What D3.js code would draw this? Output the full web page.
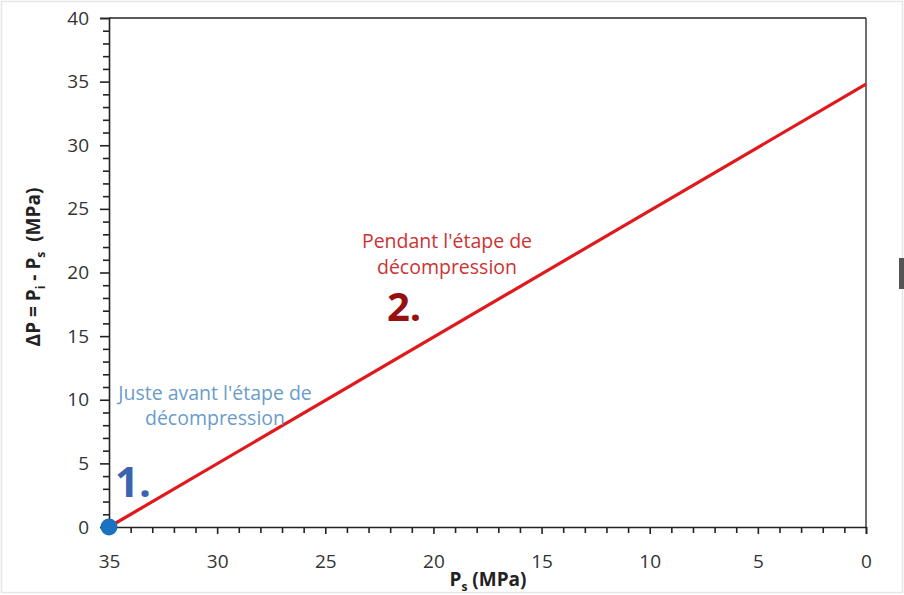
<!DOCTYPE html>
<html><head><meta charset="utf-8">
<script src="https://cdn.jsdelivr.net/npm/d3@7"></script>
<style>
html,body{margin:0;padding:0;background:#fff;}
svg{display:block;}
text{font-family:"Open Sans","Noto Sans",sans-serif;}
</style></head>
<body>
<div id="chart"></div>
<script>
// Data
const lineX = [35, 0];          // Ps (MPa)
const lineY = [0, 34.8];        // ΔP (MPa)
const pointX = [35];
const pointY = [0];
const xTicks = [35, 30, 25, 20, 15, 10, 5, 0];
const yTicks = [0, 5, 10, 15, 20, 25, 30, 35, 40];
const xLabel = "P";
const yLabel = "ΔP = P";
const note1 = ["Juste avant l'étape de", "décompression"];
const note2 = ["Pendant l'étape de", "décompression"];

const W = 904, H = 595;
const m = {left:109, right:866, top:18, bottom:527};
const svg = d3.select("#chart").append("svg").attr("width", W).attr("height", H);

// outer faint frame
svg.append("rect").attr("x",1.5).attr("y",1.5).attr("width",W-3).attr("height",H-4)
  .attr("fill","none").attr("stroke","#e6e6e6").attr("stroke-width",1.5);
svg.append("rect").attr("x",899).attr("y",258).attr("width",5).attr("height",31).attr("fill","#555");

const x = d3.scaleLinear().domain([35, 0]).range([m.left, m.right]);
const y = d3.scaleLinear().domain([0, 40]).range([m.bottom, m.top]);

// frame top & right
svg.append("line").attr("x1",m.left).attr("x2",m.right).attr("y1",m.top).attr("y2",m.top).attr("stroke","#222").attr("stroke-width",1.3);
svg.append("line").attr("x1",m.right).attr("x2",m.right).attr("y1",m.top).attr("y2",m.bottom).attr("stroke","#222").attr("stroke-width",1.3);

// minor ticks
const yMinor = d3.range(0, 41, 1).filter(v => v % 5 !== 0);
const xMinor = d3.range(0, 36, 1).filter(v => v % 5 !== 0);

svg.append("g").attr("transform", `translate(0,${m.bottom})`)
  .call(d3.axisBottom(x).tickValues(xTicks).tickSize(7).tickPadding(21).tickFormat(d3.format("d")));
svg.append("g").attr("transform", `translate(0,${m.bottom})`)
  .call(d3.axisBottom(x).tickValues(xMinor).tickSize(6).tickFormat(""))
  .call(g => g.select(".domain").remove());
svg.append("g").attr("transform", `translate(${m.left},0)`)
  .call(d3.axisLeft(y).tickValues(yTicks).tickSize(9).tickPadding(11).tickFormat(d3.format("d")));
svg.append("g").attr("transform", `translate(${m.left},0)`)
  .call(d3.axisLeft(y).tickValues(yMinor).tickSize(6).tickFormat(""))
  .call(g => g.select(".domain").remove());

svg.selectAll(".domain").attr("stroke","#222").attr("stroke-width",1.6);
svg.selectAll(".tick line").attr("stroke","#222").attr("stroke-width",1.6);
svg.selectAll(".tick text").attr("font-size",19).attr("fill","#333")
  .attr("font-family","'Open Sans','Noto Sans',sans-serif");

// line
const pts = lineX.map((v,i)=>[v, lineY[i]]);
svg.append("path").datum(pts)
  .attr("d", d3.line().x(d=>x(d[0])).y(d=>y(d[1])))
  .attr("fill","none").attr("stroke","#e0191c").attr("stroke-width",3.2);

// point
svg.selectAll(".pt").data(pointX.map((v,i)=>[v,pointY[i]])).enter().append("circle")
  .attr("cx",d=>x(d[0])).attr("cy",d=>y(d[1])).attr("r",8.5).attr("fill","#1a72c0");

// annotations
const t1 = svg.append("text").attr("text-anchor","middle").attr("font-size",19.5).attr("fill","#6a9ccb");
t1.append("tspan").attr("x",215).attr("y",400).text(note1[0]);
t1.append("tspan").attr("x",215).attr("y",425).text(note1[1]);
svg.append("text").attr("x",115).attr("y",497).attr("font-size",42).attr("font-weight","bold")
  .attr("fill","#3a63b0").attr("font-family","'Open Sans',sans-serif").text("1.");

const t2 = svg.append("text").attr("text-anchor","middle").attr("font-size",19.5).attr("fill","#cc3333");
t2.append("tspan").attr("x",447).attr("y",248).text(note2[0]);
t2.append("tspan").attr("x",447).attr("y",274).text(note2[1]);
svg.append("text").attr("x",387).attr("y",321).attr("font-size",40).attr("font-weight","bold")
  .attr("fill","#961010").attr("font-family","Roboto,'Liberation Sans',sans-serif").text("2.");

// axis labels
const xl = svg.append("text").attr("x",488).attr("y",586).attr("text-anchor","middle")
  .attr("font-size",19).attr("font-weight","bold").attr("fill","#222");
xl.append("tspan").text(xLabel);
xl.append("tspan").attr("font-size",12).attr("dy",5).text("s");
xl.append("tspan").attr("dy",-5).text(" (MPa)");

const yl = svg.append("text").attr("transform","translate(40,267) rotate(-90)").attr("text-anchor","middle")
  .attr("font-size",19).attr("font-weight","bold").attr("fill","#222");
yl.append("tspan").text(yLabel);
yl.append("tspan").attr("font-size",12).attr("dy",5).text("i");
yl.append("tspan").attr("dy",-5).text(" - P");
yl.append("tspan").attr("font-size",12).attr("dy",5).text("s");
yl.append("tspan").attr("dy",-5).attr("xml:space","preserve").text("\u00a0 (MPa)");
</script>
</body></html>
